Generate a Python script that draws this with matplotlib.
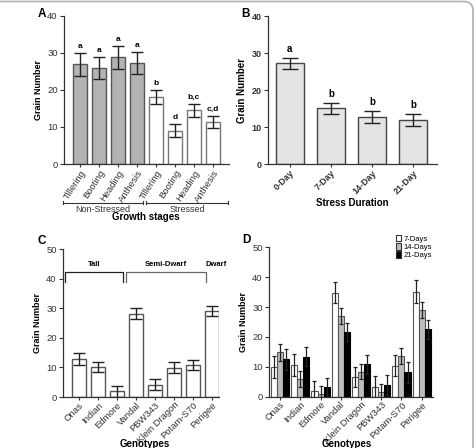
import matplotlib.pyplot as plt
from matplotlib.patches import FancyBboxPatch, Patch
import numpy as np

plt.rcParams['font.family'] = ['Liberation Sans', 'DejaVu Sans']

# panel A
stages = ["Tillering", "Booting", "Heading", "Anthesis",
          "Tillering", "Booting", "Heading", "Anthesis"]
a_vals = [26.9, 25.9, 28.75, 27.2, 18.1, 9.0, 14.55, 11.3]
a_err = [3.1, 3.0, 3.0, 3.0, 1.8, 1.75, 1.75, 1.7]
a_letters = ["a", "a", "a", "a", "b", "d", "b,c", "c,d"]
a_groups = ["Non-Stressed", "Stressed"]

# panel B
durations = ["0-Day", "7-Day", "14-Day", "21-Day"]
b_vals = [27.2, 15.1, 12.8, 12.0]
b_err = [1.5, 1.5, 1.6, 1.6]
b_letters = ["a", "b", "b", "b"]

# panel C
genotypes_c = ["Onas", "Indian", "Edmore", "Vandal", "PBW343",
               "Klein Dragon", "Potam-S70", "Perigee"]
c_vals = [12.8, 10.0, 1.9, 28.2, 4.2, 9.9, 10.8, 29.1]
c_err = [1.9, 1.7, 1.9, 1.8, 1.9, 1.8, 1.8, 1.8]
heights = ["Tall", "Semi-Dwarf", "Dwarf"]

# panel D
genotypes_d = ["Onas", "Indian", "Edmore", "Vandal", "Klein Dragon",
               "PBW343", "Potam-S70", "Perigee"]
series = ["7-Days", "14-Days", "21-Days"]
d7 = [10.0, 10.5, 1.8, 34.8, 6.6, 3.4, 10.3, 35.2]
d7_err = [3.7, 3.7, 3.5, 3.5, 3.5, 3.6, 3.5, 3.7]
d14 = [14.8, 5.9, 0.9, 27.0, 8.4, 1.7, 13.7, 29.0]
d14_err = [2.8, 2.6, 2.7, 2.6, 2.6, 2.6, 2.7, 2.6]
d21 = [12.5, 13.4, 3.1, 21.6, 10.8, 4.0, 8.1, 22.6]
d21_err = [3.4, 3.2, 3.3, 3.1, 3.2, 3.3, 3.4, 3.2]

W, H = 477, 448
fig = plt.figure(figsize=(W / 100, H / 100), dpi=100)


def px_axes(l, t, r, b):
    return fig.add_axes([l / W, 1 - b / H, (r - l) / W, (b - t) / H])


def style(ax, bold=False):
    for s in ["top", "right"]:
        ax.spines[s].set_visible(False)
    for s in ["left", "bottom"]:
        ax.spines[s].set_color("#333333")
        ax.spines[s].set_linewidth(0.9)
    ax.tick_params(direction="out", length=3, width=0.8, colors="#333333",
                   labelsize=6.8, pad=1.5)
    ax.tick_params(axis="x", length=2, pad=1)
    for lab in ax.get_yticklabels():
        lab.set_fontweight("bold" if bold else "normal")


def fig_label(x, y, s, size=7):
    fig.text(x / W, 1 - y / H, s, ha="center", va="center", fontsize=size, fontweight="bold")


ekw = dict(fmt="none", ecolor="#222222", elinewidth=1.0, capsize=4, capthick=1.0)

# ---- A
axA = px_axes(64, 15.7, 229, 164)
xa = np.arange(len(stages))
colsA = ["#b3b3b3"] * 4 + ["white"] * 4
edgA = ["#555555"] * 4 + ["#777777"] * 4
axA.bar(xa, a_vals, width=0.7, color=colsA, edgecolor=edgA, linewidth=1.0)
axA.errorbar(xa, a_vals, yerr=a_err, **ekw)
for x, v, e, t in zip(xa, a_vals, a_err, a_letters):
    axA.text(x, v + e + 0.8, t, ha="center", va="bottom", fontsize=6, fontweight="bold")
axA.set_xlim(-0.84, 7.84)
axA.set_ylim(0, 40)
axA.set_yticks([0, 10, 20, 30, 40])
axA.set_xticks(xa)
axA.set_xticklabels(stages, rotation=57, ha="right", rotation_mode="anchor", fontsize=6.2)
axA.set_ylabel("Grain Number", fontsize=6.5, fontweight="bold", labelpad=3)
style(axA)
for (x0, x1), lab in zip([(-0.89, 3.3), (3.47, 7.8)], a_groups):
    y = -10.5
    axA.plot([x0, x1], [y, y], color="#333333", lw=0.8, clip_on=False)
    axA.plot([x0, x0], [y - 0.4, y + 0.4], color="#333333", lw=0.8, clip_on=False)
    axA.plot([x1, x1], [y - 0.4, y + 0.4], color="#333333", lw=0.8, clip_on=False)
    axA.text((x0 + x1) / 2, y - 0.5, lab, ha="center", va="top", fontsize=6.5, color="#333333")
fig_label(146, 216.5, "Growth stages")

# ---- B
axB = px_axes(267.7, 16, 436.7, 164.3)
xb = np.arange(len(durations))
axB.bar(xb, b_vals, width=0.67, color="#e4e4e4", edgecolor="#444444", linewidth=1.0)
axB.errorbar(xb, b_vals, yerr=b_err, fmt="none", ecolor="#222222", elinewidth=1.0,
             capsize=6, capthick=1.0)
for x, v, e, t in zip(xb, b_vals, b_err, b_letters):
    axB.text(x, v + e + 1.0, t, ha="center", va="bottom", fontsize=7, fontweight="bold")
axB.set_xlim(-0.54, 3.58)
axB.set_ylim(0, 40)
axB.set_yticks([0, 10, 20, 30, 40])
axB.set_xticks(xb)
axB.set_xticklabels(durations, rotation=45, ha="right", rotation_mode="anchor",
                    fontsize=6.2, fontweight="bold")
axB.set_ylabel("Grain Number", fontsize=7, fontweight="bold", labelpad=3)
style(axB, bold=True)
axB.tick_params(labelsize=6.5)
fig_label(352, 203, "Stress Duration")

# ---- C
axC = px_axes(63, 249, 219, 397)
xc = np.arange(len(genotypes_c))
axC.bar(xc, c_vals, width=0.7, color="white", edgecolor="#555555", linewidth=1.0)
axC.errorbar(xc, c_vals, yerr=c_err, **ekw)
axC.set_xlim(-0.84, 7.37)
axC.set_ylim(0, 50)
axC.set_yticks([0, 10, 20, 30, 40, 50])
axC.set_xticks(xc)
axC.set_xticklabels(genotypes_c, rotation=45, ha="right", rotation_mode="anchor", fontsize=5.3)
axC.set_ylabel("Grain Number", fontsize=6.5, fontweight="bold", labelpad=3)
style(axC)
axC.tick_params(axis="x", pad=0.5)
fig_label(145, 443.5, "Genotypes")
for (x0, x1), lab, col in zip([(-0.72, 2.33), (2.47, 6.67)], heights[:2], ["#222222", "#666666"]):
    axC.plot([x0, x0, x1, x1], [39, 42.2, 42.2, 39], color=col, lw=0.9, clip_on=False)
    axC.text((x0 + x1) / 2, 44.9, lab, ha="center", va="center", fontsize=5.5, fontweight="bold")
axC.text(7.2, 44.9, heights[2], ha="center", va="center", fontsize=5.5, fontweight="bold",
         clip_on=False)

# ---- D
axD = px_axes(269, 247.3, 433, 396.7)
xd = np.arange(len(genotypes_d))
bw = 0.3
dcols = ["white", "#bdbdbd", "black"]
dedge = ["#555555", "#555555", "black"]
for i, (vals, errs) in enumerate([(d7, d7_err), (d14, d14_err), (d21, d21_err)]):
    pos = xd + (i - 1) * bw
    axD.bar(pos, vals, width=bw, color=dcols[i], edgecolor=dedge[i], linewidth=0.8,
            label=series[i])
    axD.errorbar(pos, vals, yerr=errs, fmt="none", ecolor="#222222", elinewidth=0.9,
                 capsize=1.5, capthick=0.9)
axD.set_xlim(-0.55, 7.56)
axD.set_ylim(0, 50)
axD.set_yticks([0, 10, 20, 30, 40, 50])
axD.set_xticks(xd)
axD.set_xticklabels(genotypes_d, rotation=45, ha="right", rotation_mode="anchor", fontsize=5.3)
axD.set_ylabel("Grain Number", fontsize=6.5, fontweight="bold", labelpad=3)
style(axD)
axD.tick_params(axis="x", pad=0.5)
fig_label(347, 443.5, "Genotypes")
handles = [Patch(facecolor=c, edgecolor="#333333", linewidth=0.8) for c in dcols]
fig.legend(handles, series, loc="upper left", bbox_to_anchor=(396 / W, 1 - 235 / H),
           bbox_transform=fig.transFigure, frameon=False, fontsize=5.5, handlelength=0.7,
           handleheight=0.9, handletextpad=0.3, labelspacing=0.05, borderpad=0,
           borderaxespad=0)

# panel letters
for lab, x, y in [("A", 38, 17), ("B", 241, 17), ("C", 37, 244), ("D", 242, 243)]:
    fig.text(x / W, 1 - y / H, lab, fontsize=8.5, fontweight="bold", ha="left", va="baseline")

# frame around the figure
frame = FancyBboxPatch((-20 / W, -20 / H), (473 + 20) / W, (446.5 + 20) / H,
                       boxstyle="round,pad=0,rounding_size=0.02", transform=fig.transFigure,
                       fill=False, edgecolor="#b5b5b5", linewidth=1.3, clip_on=False)
fig.patches.append(frame)

fig.savefig("out.png", dpi=100)
